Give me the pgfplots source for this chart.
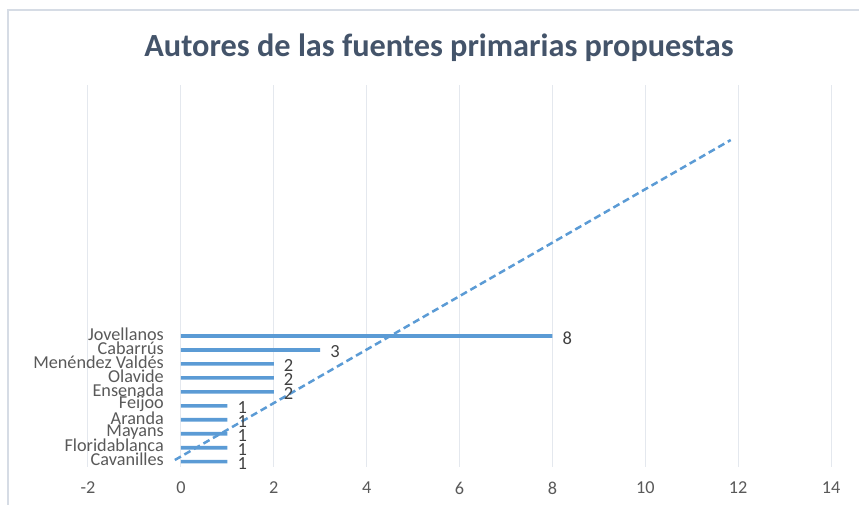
\documentclass[border=0pt]{standalone}
\usepackage{pgfplots}
\pgfplotsset{compat=1.18}
\usepackage{fontspec}
\setmainfont{Carlito}
\definecolor{barblue}{HTML}{5B9BD5}
\definecolor{gridc}{HTML}{E4E8EE}
\definecolor{tickc}{HTML}{595959}
\definecolor{valc}{HTML}{404040}
\definecolor{titlec}{HTML}{44546A}
\definecolor{framec}{HTML}{D6DCE5}
\begin{document}
\begin{tikzpicture}
\useasboundingbox (-88pt,-38pt) rectangle (771pt,467pt);
\begin{axis}[
 scale only axis, width=743pt, height=382pt,
 xmin=-2, xmax=14, ymin=0.62, ymax=27.97,
 /pgf/number format/assume math mode=true,
 xtick={-2,0,...,14}, xticklabels={-2,0,2,4,6,8,10,12,14},
 ytick={1,...,10},
 yticklabels={Cavanilles,Floridablanca,Mayans,Aranda,Feijoo,Ensenada,Olavide,Menéndez Valdés,Cabarrús,Jovellanos},
 xmajorgrids, major grid style={gridc, line width=1pt},
 axis line style={draw=none}, tick style={draw=none},
 ticklabel style={font=\fontsize{18.2}{18.2}\selectfont, text=tickc},
 yticklabel style={anchor=east, inner sep=0pt, xshift=76pt, yshift=2pt},
 xticklabel style={anchor=center, inner sep=0pt, yshift=-21pt},
 clip=false,
]
\addplot[xbar, bar width=3.6pt, fill=barblue, draw=none, point meta=x,
 nodes near coords, nodes near coords style={font=\fontsize{18.5}{18.5}\selectfont, text=valc, anchor=west, inner sep=0pt, xshift=10pt, yshift=-2pt}]
 coordinates {(1,1) (1,2) (1,3) (1,4) (1,5) (2,6) (2,7) (2,8) (3,9) (8,10)};
\addplot[barblue, line width=2.5pt, dash pattern=on 7pt off 4pt] coordinates {(-0.13,1.12) (11.84,24.03)};
\end{axis}
\draw[framec, line width=2pt] (-80pt,-38pt) -- (-80pt,457pt) -- (771pt,457pt);
\node[anchor=base, font=\fontsize{32.3}{32.3}\selectfont\bfseries, text=titlec] at (351pt,410pt) {Autores de las fuentes primarias propuestas};
\end{tikzpicture}
\end{document}
